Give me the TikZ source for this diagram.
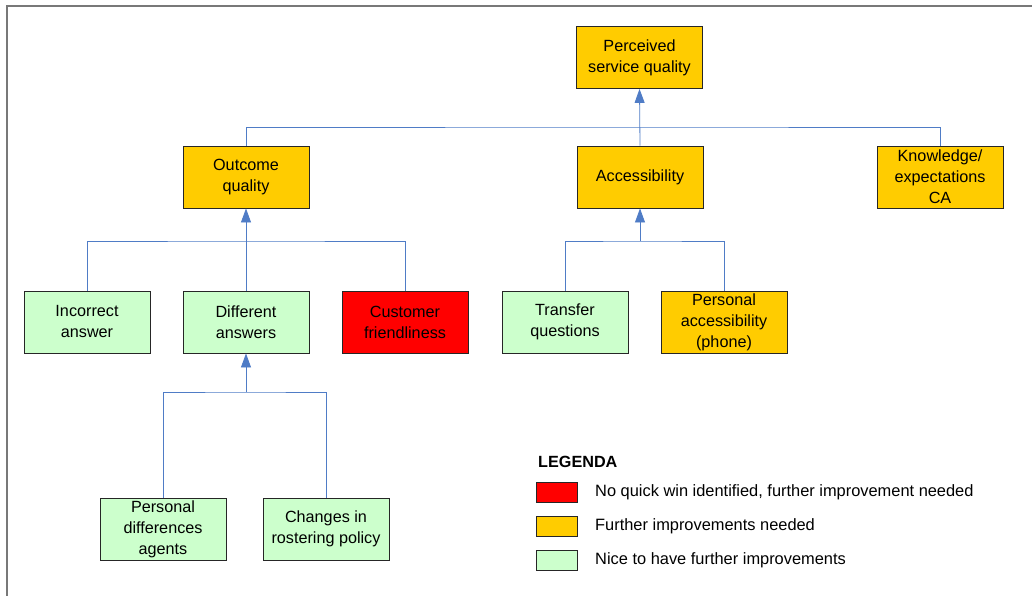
\documentclass[tikz,border=0pt]{standalone}
\usepackage{fontspec}
\setmainfont{Liberation Sans}
\usetikzlibrary{arrows.meta}
\definecolor{amber}{RGB}{255,204,0}
\definecolor{mint}{RGB}{204,255,204}
\definecolor{alarm}{RGB}{255,0,0}
\definecolor{wire}{RGB}{79,124,198}
\definecolor{framegray}{RGB}{120,120,120}
\tikzset{
  box/.style={draw=black!85, line width=0.9pt, minimum width=126pt, minimum height=62pt,
    inner sep=0pt, align=center, font=\fontsize{16.2}{21}\selectfont},
  orangebox/.style={box, fill=amber},
  greenbox/.style={box, fill=mint},
  redbox/.style={box, fill=alarm},
  conn/.style={draw=wire, line width=0.8pt},
  uparrow/.style={conn, -{Triangle[length=14pt,width=10pt]}},
  swatch/.style={draw=black!85, line width=0.8pt, minimum width=41pt, minimum height=20pt, inner sep=0pt},
  legtext/.style={anchor=west, inner sep=0pt, font=\fontsize{16.4}{19}\selectfont}
}
\begin{document}
\begin{tikzpicture}[x=1pt, y=-1pt]
\useasboundingbox (0,0) rectangle (1032,596);
% outer frame (top and left edges)
\draw[framegray, line width=1.4pt] (7,596) -- (7,6) -- (1032,6);

% level 0
\node[orangebox] (perc) at (639.5,57.5) {Perceived\\service quality};
% level 1
\node[orangebox] (outcome) at (246,177) {Outcome\\quality};
\node[orangebox] (acc) at (640,177) {Accessibility};
\node[orangebox] (know) at (940,177) {Knowledge/\\expectations\\CA};
% level 2
\node[greenbox] (incorrect) at (87,322) {Incorrect\\answer};
\node[greenbox] (diff) at (246,322) {Different\\answers};
\node[redbox] (cust) at (405,322) {Customer\\friendliness};
\node[greenbox] (transfer) at (565,322) {Transfer\\questions};
\node[orangebox] (pacc) at (724,322) {Personal\\accessibility\\(phone)};
% level 3
\node[greenbox] (pdiff) at (163,529) {Personal\\differences\\agents};
\node[greenbox] (roster) at (326,529) {Changes in\\rostering policy};

% bus junctions
\coordinate (j1) at (640,127);
\coordinate (j2) at (246,241);
\coordinate (j3) at (640,241);
\coordinate (j4) at (246,392);

% connectors
\draw[conn] (outcome.north) |- (j1) -| (know.north);
\draw[uparrow] (acc.north) -- (perc.south);

\draw[conn] (incorrect.north) |- (j2) -| (cust.north);
\draw[uparrow] (diff.north) -- (outcome.south);

\draw[conn] (transfer.north) |- (j3) -| (pacc.north);
\draw[uparrow] (j3) -- (acc.south);

\draw[conn] (pdiff.north) |- (j4) -| (roster.north);
\draw[uparrow] (j4) -- (diff.south);

% legend
\node[anchor=west, inner sep=0pt, font=\fontsize{16.2}{19}\selectfont\bfseries] (legtitle) at (538,462) {LEGENDA};
\node[swatch, fill=alarm] (s1) at (557,492) {};
\node[swatch, fill=amber] (s2) at (557,526) {};
\node[swatch, fill=mint] (s3) at (557,560) {};
\node[legtext] (t1) at (595,492) {No quick win identified, further improvement needed};
\node[legtext] (t2) at (595,526) {Further improvements needed};
\node[legtext] (t3) at (595,560) {Nice to have further improvements};
\end{tikzpicture}
\end{document}
